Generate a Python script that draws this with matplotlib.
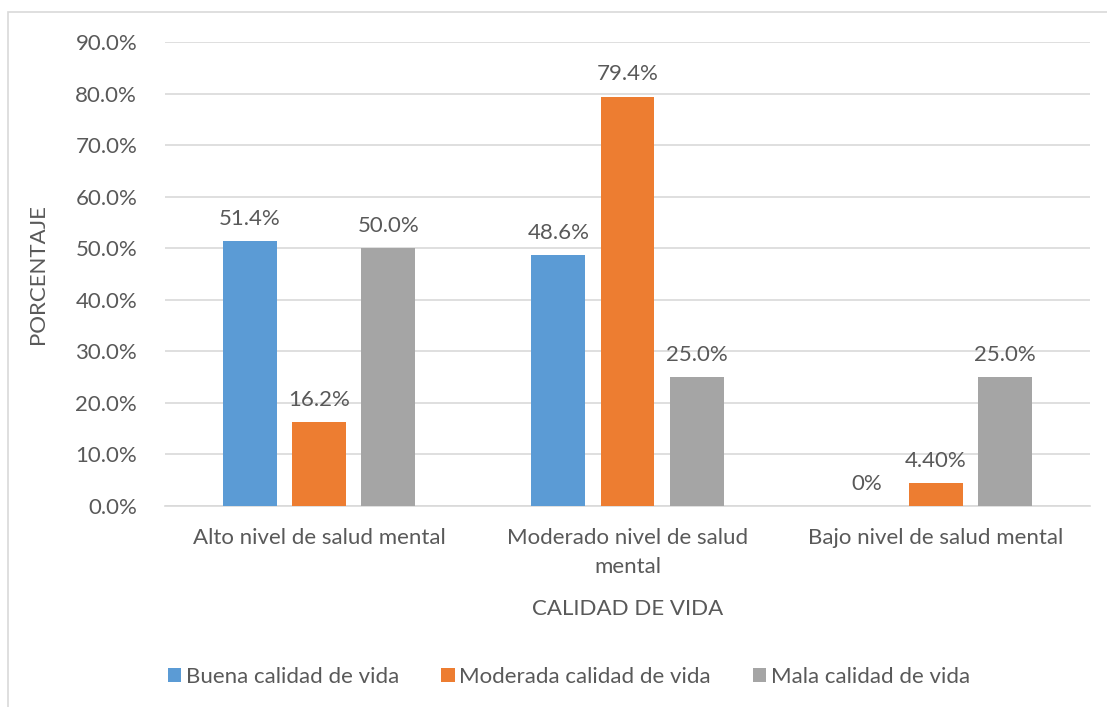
import matplotlib.pyplot as plt
import numpy as np
from matplotlib.patches import Rectangle

categorias = ["Alto nivel de salud mental", "Moderado nivel de salud\nmental", "Bajo nivel de salud mental"]
series = ["Buena calidad de vida", "Moderada calidad de vida", "Mala calidad de vida"]
buena = [51.4, 48.6, 0.0]
moderada = [16.2, 79.4, 4.4]
mala = [50.0, 25.0, 25.0]
etiquetas = [["51.4%", "48.6%", "0%"], ["16.2%", "79.4%", "4.40%"], ["50.0%", "25.0%", "25.0%"]]
colores = ["#5B9BD5", "#ED7D31", "#A5A5A5"]

texto = "#595959"
fs = 16
plt.rcParams['font.family'] = ['Lato', 'DejaVu Sans']

fig = plt.figure(figsize=(11.07, 7.07), dpi=100)
ax = fig.add_axes([165 / 1107, 1 - 506 / 707, 925 / 1107, (506 - 42) / 707])

# marco del grafico
fig.patches.append(Rectangle((8 / 1107, -0.1), 1.2, 1 - 12 / 707 + 0.1, transform=fig.transFigure,
                             fill=False, edgecolor="#D9D9D9", linewidth=1.2))

x = np.arange(len(categorias))
ancho = 0.175
paso = 0.224
for i, valores in enumerate([buena, moderada, mala]):
    pos = x + (i - 1) * paso
    ax.bar(pos, valores, ancho, color=colores[i], label=series[i], zorder=3)
    for j, v in enumerate(valores):
        ax.text(pos[j], v + 2.4, etiquetas[i][j], ha="center", va="bottom",
                fontsize=fs, color=texto)

ax.set_xlim(-0.5, 2.5)
ax.set_ylim(0, 90)
ax.set_yticks(np.arange(0, 91, 10))
ax.set_yticklabels([f"{v:.1f}%" for v in np.arange(0, 91, 10)])
ax.set_xticks(x)
ax.set_xticklabels(categorias, linespacing=1.55)
ax.grid(axis="y", color="#D9D9D9", linewidth=1.2, zorder=0)
for s in ["top", "right", "left"]:
    ax.spines[s].set_visible(False)
ax.spines["bottom"].set_color("#D9D9D9")
ax.spines["bottom"].set_linewidth(1.2)
ax.tick_params(axis="both", length=0, labelsize=fs, labelcolor=texto)
ax.tick_params(axis="y", pad=20)
ax.tick_params(axis="x", pad=16)

ax.set_xlabel("CALIDAD DE VIDA", fontsize=fs, color=texto, labelpad=16)
ax.set_ylabel("PORCENTAJE", fontsize=fs, color=texto, labelpad=20)

ax.legend(loc="center", bbox_to_anchor=(569 / 1107, 1 - 677 / 707), bbox_transform=fig.transFigure,
          ncol=3, frameon=False, fontsize=fs, labelcolor=texto, handlelength=0.6,
          handleheight=0.6, handletextpad=0.2, columnspacing=1.9)

fig.savefig("out.png", dpi=100)
